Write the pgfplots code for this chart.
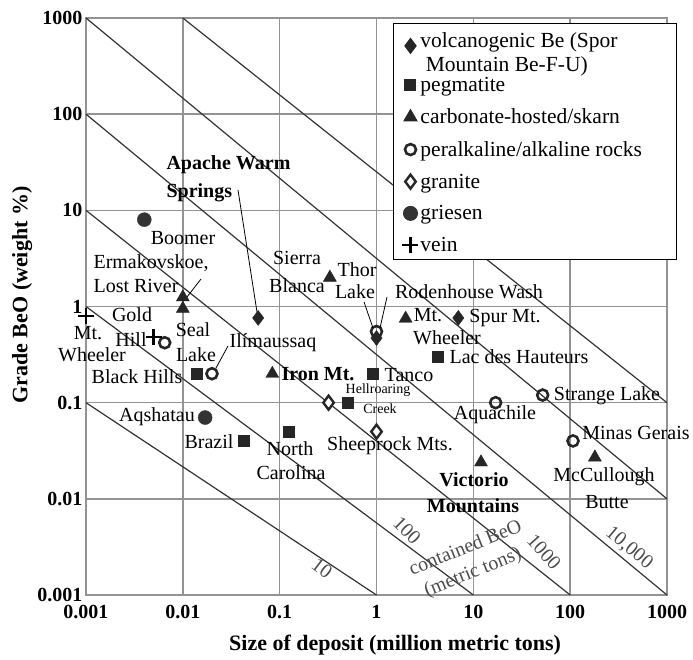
\documentclass[border=0pt]{standalone}
\usepackage{fontspec}
\setmainfont{Liberation Serif}
\usepackage{pgfplots}
\pgfplotsset{compat=1.18}

% labels and leaders are placed in picture pixels (x right, y down from the top)
\newcommand{\lbl}[4][]{\node[#1] at ({#2*1pt},{(659-#3)*1pt}) {#4};}
\newcommand{\ldr}[4]{\draw[black, line width=0.8pt] ({#1*1pt},{(659-#2)*1pt}) -- ({#3*1pt},{(659-#4)*1pt});}

\begin{document}
\begin{tikzpicture}
\useasboundingbox (0,0) rectangle (693pt,659pt);
\begin{axis}[
  at={(86pt,64pt)}, anchor=south west,
  scale only axis, width=581pt, height=577pt,
  xmode=log, ymode=log,
  xmin=0.001, xmax=1000, ymin=0.001, ymax=1000,
  xtick={0.001,0.01,0.1,1,10,100,1000},
  xticklabels={0.001,0.01,0.1,1,10,100,1000},
  ytick={0.001,0.01,0.1,1,10,100,1000},
  yticklabels={0.001,0.01,0.1,1,10,100,1000},
  xminorticks=false, yminorticks=false,
  major tick length=0pt,
  grid=major,
  major grid style={draw=gray!85, line width=1.6pt},
  axis line style={draw=gray!85, line width=1.6pt},
  tick label style={font=\fontsize{20}{24}\selectfont\bfseries},
  xticklabel style={yshift=-7pt},
  xlabel={Size of deposit (million metric tons)},
  ylabel={Grade BeO (weight \%)},
  label style={font=\fontsize{22}{26}\selectfont\bfseries},
  xlabel style={at={(axis description cs:0.532,-0.087)}, anchor=center},
  ylabel style={at={(axis description cs:-0.110,0.52)}, anchor=center},
  clip=false,
  legend style={at={(rel axis cs:0.5284,0.9913)}, anchor=north west,
    draw=black, line width=1pt, fill=white,
    font=\fontsize{21.5}{24}\selectfont,
    row sep=12pt, inner xsep=9pt, inner ysep=5pt},
  legend cell align=left,
]
% contained BeO reference lines
\addplot[forget plot, black!80, line width=1.2pt] coordinates {(0.01,1000) (1000,0.1)};
\addplot[forget plot, black!80, line width=1.2pt] coordinates {(0.001,1000) (1000,0.01)};
\addplot[forget plot, black!80, line width=1.2pt] coordinates {(0.001,100) (1000,0.001)};
\addplot[forget plot, black!80, line width=1.2pt] coordinates {(0.001,10) (100,0.001)};
\addplot[forget plot, black!80, line width=1.2pt] coordinates {(0.001,1) (10,0.001)};
\addplot[forget plot, black!80, line width=1.2pt] coordinates {(0.001,0.1) (1,0.001)};

% volcanogenic Be
\addplot[only marks, mark=diamond*, mark size=7.5pt, black!85] coordinates {
  (0.06,0.76) (7,0.76) (1.0,0.47)};
\addlegendentry{\raisebox{0pt}[\height][\dimexpr\depth-9pt\relax]{\begin{tabular}{@{}l@{}}volcanogenic Be (Spor\\\ Mountain Be-F-U)\end{tabular}}}
% pegmatite
\addplot[only marks, mark=square*, mark size=5.5pt, black!85] coordinates {
  (0.014,0.2) (0.043,0.04) (0.125,0.05) (0.92,0.2) (0.5,0.1) (4.3,0.3)};
\addlegendentry{pegmatite}
% carbonate-hosted/skarn
\addplot[only marks, mark=triangle*, mark size=7.5pt, black!85] coordinates {
  (0.01,1.25) (0.01,0.95) (0.33,2.0) (0.084,0.2) (2.0,0.75) (12,0.024) (180,0.027)};
\addlegendentry{carbonate-hosted/skarn}
% peralkaline/alkaline rocks
\addplot[only marks, mark=o, mark size=5.5pt, black!85, mark options={line width=2.6pt}] coordinates {
  (0.0065,0.42) (0.02,0.2) (1.0,0.55) (17,0.1) (52,0.12) (107,0.04)};
\addlegendentry{peralkaline/alkaline rocks\hspace*{24pt}}
% granite
\addplot[only marks, mark=diamond*, mark size=7pt, black!85, mark options={fill=white, line width=2.4pt}] coordinates {
  (0.32,0.1) (1.0,0.05)};
\addlegendentry{granite}
% griesen
\addplot[only marks, mark=*, mark size=7pt, black!80] coordinates {
  (0.004,8) (0.017,0.07)};
\addlegendentry{griesen}
% vein
\addplot[only marks, mark=+, mark size=8pt, black, mark options={line width=2.6pt}] coordinates {
  (0.001,0.8) (0.005,0.48)};
\addlegendentry{vein}
\end{axis}

\begin{scope}[font=\fontsize{20}{24}\selectfont]
\lbl[anchor=west, align=left, font=\fontsize{20}{28}\selectfont\bfseries]{163}{179}{Apache Warm\\Springs}
\ldr{238}{190}{257}{312}
\lbl{183}{238}{Boomer}
\lbl[anchor=west]{90}{263}{Ermakovskoe,}
\lbl[anchor=west]{90}{286}{Lost River}
\ldr{201}{279}{187}{297}
\lbl{132}{315}{Gold}
\lbl{131}{340}{Hill}
\lbl{88}{333}{Mt.}
\lbl{92}{355}{Wheeler}
\lbl{193}{330}{Seal}
\lbl{196}{355}{Lake}
\lbl{273}{343}{Ilímaussaq}
\ldr{228}{346}{216}{368}
\lbl{137}{377}{Black Hills}
\lbl[font=\fontsize{20}{24}\selectfont\bfseries]{318}{374}{Iron Mt.}
\lbl{157}{417}{Aqshatau}
\lbl{209}{442}{Brazil}
\lbl{290}{449}{North}
\lbl{291}{473}{Carolina}
\lbl{297}{258}{Sierra}
\lbl{297}{286}{Blanca}
\lbl{357}{270}{Thor}
\lbl{355}{292}{Lake}
\ldr{364}{302}{373}{328}
\lbl{469}{292}{Rodenhouse Wash}
\ldr{387}{297}{380}{328}
\lbl{428}{315}{Mt.}
\lbl{447}{338}{Wheeler}
\lbl{505}{318}{Spur Mt.}
\lbl{519}{357}{Lac des Hauteurs}
\lbl{409}{375}{Tanco}
\lbl[font=\fontsize{14}{16}\selectfont]{378}{390}{Hellroaring}
\lbl[font=\fontsize{14}{16}\selectfont]{380}{409}{Creek}
\lbl{390}{446}{Sheeprock Mts.}
\lbl{495}{415}{Aquachile}
\lbl{607}{396}{Strange Lake}
\lbl{636}{433}{Minas Gerais}
\lbl{604}{477}{McCullough}
\lbl{607}{502}{Butte}
\lbl[font=\fontsize{20}{24}\selectfont\bfseries]{474}{480}{Victorio}
\lbl[font=\fontsize{20}{24}\selectfont\bfseries]{473}{506}{Mountains}
\begin{scope}[text=black!70]
\lbl[rotate=-37]{322}{568}{10}
\lbl[rotate=-45]{407}{530}{100}
\lbl[rotate=22]{465}{547}{contained BeO}
\lbl[rotate=22]{473}{573}{(metric tons)}
\lbl[rotate=-48]{544}{552}{1000}
\lbl[rotate=-40]{629}{548}{10,000}
\end{scope}
\end{scope}
\end{tikzpicture}
\end{document}
